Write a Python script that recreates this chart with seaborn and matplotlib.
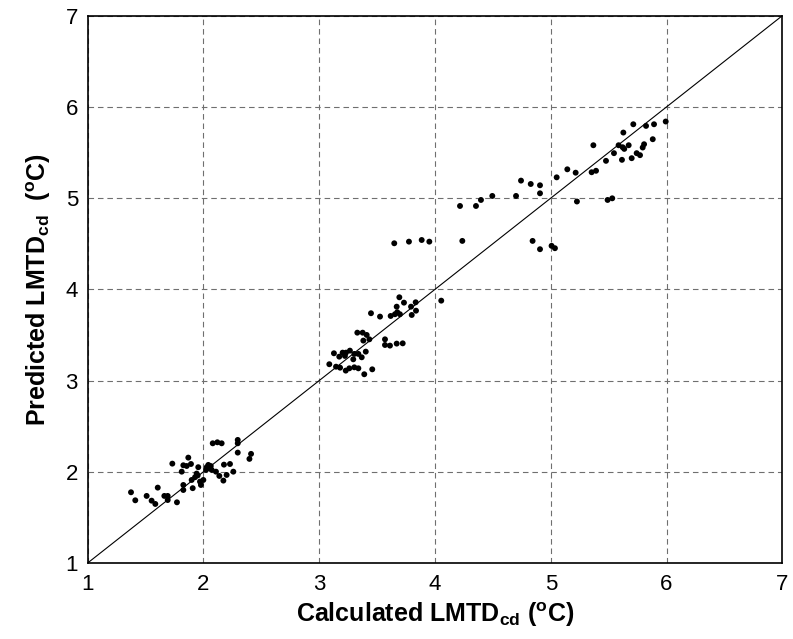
import matplotlib
matplotlib.use("Agg")
import matplotlib.pyplot as plt
import seaborn as sns
import pandas as pd

# Calculated (x) and predicted (y) LMTD_cd values, degC
calc_low = [1.374, 1.411, 1.509, 1.552, 1.584, 1.605, 1.662, 1.691, 1.691, 1.771,
            1.731, 1.826, 1.826, 1.907, 1.812, 1.826, 1.869, 1.892, 1.855, 1.898,
            1.927, 1.941, 1.955, 1.970, 1.999, 1.978, 2.028, 2.042, 2.063, 2.071,
            2.022, 2.080, 2.120, 2.157, 2.108, 2.137, 2.172, 2.200, 2.177, 2.229,
            2.258, 2.296, 2.296, 2.296, 2.411, 2.397, 2.050, 1.950]
pred_low = [1.775, 1.687, 1.735, 1.683, 1.647, 1.826, 1.735, 1.735, 1.690, 1.665,
            2.089, 1.855, 1.800, 1.820, 2.001, 2.071, 2.155, 2.085, 2.063, 1.910,
            1.940, 1.980, 2.050, 1.892, 1.910, 1.855, 2.050, 2.075, 2.063, 2.020,
            2.020, 2.312, 2.323, 2.312, 2.001, 1.954, 1.903, 1.965, 2.078, 2.085,
            2.001, 2.349, 2.312, 2.210, 2.196, 2.141, 2.040, 1.960]

calc_mid = [3.087, 3.145, 3.180, 3.229, 3.260, 3.303, 3.338, 3.389, 3.458, 3.127,
            3.173, 3.202, 3.231, 3.265, 3.294, 3.303, 3.338, 3.367, 3.402, 3.222,
            3.329, 3.375, 3.410, 3.381, 3.433, 3.447, 3.525, 3.568, 3.568, 3.611,
            3.669, 3.721, 3.617, 3.654, 3.674, 3.697, 3.669, 3.692, 3.732, 3.793,
            3.833, 3.799, 3.836, 4.054, 3.648, 3.775, 3.885, 3.951]
pred_mid = [3.179, 3.152, 3.141, 3.109, 3.134, 3.145, 3.134, 3.069, 3.123, 3.299,
            3.262, 3.306, 3.306, 3.328, 3.233, 3.292, 3.292, 3.255, 3.317, 3.270,
            3.525, 3.525, 3.500, 3.438, 3.452, 3.738, 3.701, 3.452, 3.390, 3.383,
            3.405, 3.408, 3.708, 3.727, 3.749, 3.727, 3.810, 3.913, 3.854, 3.810,
            3.858, 3.719, 3.766, 3.876, 4.505, 4.523, 4.541, 4.523]

calc_high = [4.216, 4.236, 4.354, 4.397, 4.495, 4.700, 4.743, 4.827, 4.907, 4.907,
             4.843, 4.907, 5.007, 5.036, 5.051, 5.143, 5.215, 5.226, 5.353, 5.391,
             5.368, 5.477, 5.546, 5.586, 5.627, 5.615, 5.621, 5.635, 5.673, 5.699,
             5.713, 5.742, 5.771, 5.794, 5.806, 5.823, 5.881, 5.892, 5.993, 5.491,
             5.531]
pred_high = [4.914, 4.531, 4.914, 4.980, 5.024, 5.024, 5.192, 5.155, 5.141, 5.053,
             4.531, 4.440, 4.477, 4.451, 5.228, 5.316, 5.279, 4.963, 5.284, 5.300,
             5.580, 5.409, 5.493, 5.580, 5.719, 5.420, 5.558, 5.540, 5.580, 5.438,
             5.810, 5.493, 5.471, 5.555, 5.591, 5.792, 5.646, 5.810, 5.840, 4.980,
             4.998]

ref_line = [1, 7]
tick_values = [1, 2, 3, 4, 5, 6, 7]

df = pd.DataFrame({
    "calc": calc_low + calc_mid + calc_high,
    "pred": pred_low + pred_mid + pred_high,
})

sns.set_style("white")
plt.rcParams["font.family"] = ["Liberation Sans", "DejaVu Sans"]
plt.rcParams["mathtext.fontset"] = "custom"
plt.rcParams["mathtext.rm"] = "Liberation Sans:bold"
plt.rcParams["mathtext.bf"] = "Liberation Sans:bold"
plt.rcParams["mathtext.it"] = "Liberation Sans:bold"

fig = plt.figure(figsize=(7.93, 6.39), dpi=100)
ax = fig.add_axes([0.1106, 0.119, 0.8759, 0.8564])

ax.grid(True, color="#6f6f6f", linestyle=(0, (5, 3.5)), linewidth=0.8)
ax.set_axisbelow(True)

sns.lineplot(x=ref_line, y=ref_line, ax=ax, color="black", linewidth=0.8)
sns.scatterplot(data=df, x="calc", y="pred", ax=ax, color="black", s=18,
                edgecolor="none", linewidth=0, zorder=3)

ax.set_xlim(1, 7)
ax.set_ylim(1, 7)
ax.set_xticks(tick_values)
ax.set_yticks(tick_values)
ax.tick_params(axis="both", direction="in", length=0, labelsize=16,
               labelcolor="black")
ax.tick_params(axis="y", pad=7)
ax.tick_params(axis="x", pad=8)
for s in ax.spines.values():
    s.set_visible(True)
    s.set_color("black")
    s.set_linewidth(1.2)

ax.set_xlabel(r"Calculated LMTD$_\mathbf{cd}$ ($^\mathbf{o}$C)", fontsize=18,
              fontweight="bold", labelpad=4, color="black")
ax.set_ylabel(r"Predicted LMTD$_\mathbf{cd}$  ($^\mathbf{o}$C)", fontsize=18,
              fontweight="bold", labelpad=9, color="black")

fig.savefig("out.png", dpi=100)
